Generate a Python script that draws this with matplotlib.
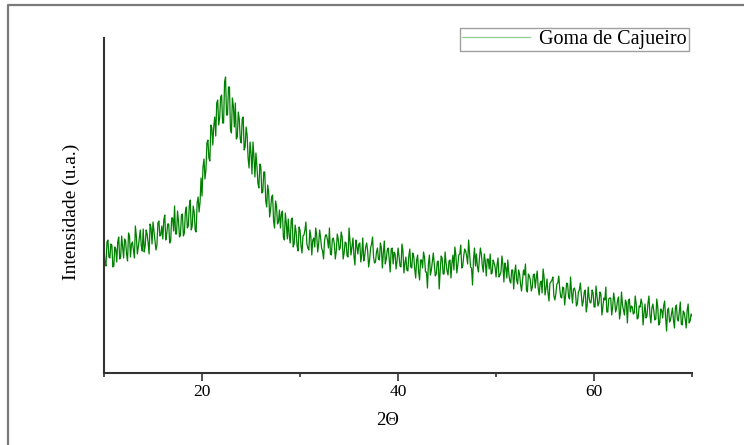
import numpy as np
import matplotlib
matplotlib.use('Agg')
import matplotlib.pyplot as plt
from matplotlib.lines import Line2D
from matplotlib.ticker import MultipleLocator

plt.rcParams['font.family'] = ['Liberation Serif', 'DejaVu Serif']

# XRD scan of cashew gum, 10-70 deg 2theta
# counts on the 0.2 deg grid (10.0, 10.2, ... 70.0)
scan_start = 10.0
scan_step = 0.2
intensity = [
    123, 107, 133, 115, 128, 107, 124, 131, 114, 137,
    115, 132, 112, 137, 129, 123, 147, 119, 135, 127,
    144, 127, 139, 119, 145, 151, 133, 128, 152, 138,
    134, 158, 139, 149, 132, 155, 167, 139, 152, 138,
    159, 140, 166, 147, 173, 147, 161, 141, 176, 171,
    177, 214, 203, 233, 212, 245, 247, 237, 273, 255,
    278, 250, 296, 258, 286, 240, 267, 270, 236, 254,
    230, 256, 226, 238, 205, 220, 231, 196, 207, 185,
    206, 181, 201, 166, 181, 164, 178, 145, 167, 151,
    145, 162, 133, 150, 154, 130, 155, 129, 141, 122,
    143, 120, 138, 151, 125, 143, 118, 135, 145, 121,
    143, 125, 114, 138, 133, 145, 118, 135, 114, 139,
    123, 141, 114, 131, 117, 145, 118, 135, 108, 127,
    129, 111, 135, 117, 130, 106, 125, 136, 110, 121,
    114, 130, 105, 132, 114, 125, 101, 125, 121, 104,
    125, 107, 129, 100, 116, 102, 124, 105, 117, 95,
    118, 93, 113, 121, 101, 85, 118, 103, 120, 97,
    111, 84, 117, 99, 121, 102, 112, 95, 118, 126,
    100, 118, 128, 107, 124, 117, 133, 106, 88, 125,
    119, 101, 125, 107, 119, 97, 114, 119, 100, 110,
    96, 115, 98, 117, 91, 105, 113, 92, 103, 84,
    108, 89, 99, 82, 103, 109, 81, 97, 82, 98,
    85, 102, 78, 92, 104, 78, 94, 72, 91, 96,
    73, 89, 97, 76, 86, 68, 90, 76, 96, 70,
    85, 67, 81, 90, 67, 81, 61, 86, 70, 83,
    66, 87, 67, 81, 58, 75, 86, 61, 75, 58,
    80, 61, 73, 54, 81, 63, 73, 50, 74, 67,
    59, 77, 54, 67, 74, 48, 69, 57, 77, 50,
    69, 53, 74, 48, 64, 55, 72, 42, 65, 53,
    65, 45, 68, 52, 71, 48, 60, 45, 69, 52,
    57,
]
# counts at the in-between angles (10.1, 10.3, ... 69.9)
intensity_mid = [
    110, 131, 116, 129, 106, 126, 111, 136, 116, 126,
    134, 119, 140, 116, 131, 115, 137, 126, 143, 122,
    121, 143, 130, 149, 129, 142, 123, 150, 137, 147,
    153, 133, 149, 130, 155, 142, 139, 162, 136, 158,
    137, 161, 145, 167, 143, 167, 143, 170, 161, 195,
    206, 194, 230, 215, 248, 228, 256, 270, 248, 276,
    250, 291, 258, 286, 244, 275, 246, 234, 261, 234,
    254, 223, 246, 215, 231, 199, 216, 220, 190, 209,
    180, 201, 172, 188, 156, 176, 152, 172, 149, 163,
    159, 136, 160, 134, 137, 153, 126, 148, 127, 146,
    127, 137, 143, 129, 123, 137, 133, 126, 138, 129,
    135, 122, 132, 138, 125, 119, 134, 129, 122, 134,
    125, 136, 120, 130, 116, 132, 127, 117, 133, 119,
    130, 118, 112, 126, 122, 113, 129, 116, 111, 125,
    113, 125, 120, 109, 123, 114, 124, 109, 119, 112,
    117, 106, 122, 110, 103, 117, 106, 120, 104, 113,
    101, 113, 105, 116, 101, 109, 98, 112, 109, 99,
    112, 102, 115, 99, 110, 98, 113, 110, 103, 118,
    108, 119, 105, 117, 122, 109, 119, 105, 114, 107,
    106, 114, 119, 101, 112, 114, 104, 99, 113, 106,
    108, 96, 101, 108, 110, 95, 100, 90, 103, 100,
    93, 103, 89, 93, 98, 83, 99, 93, 86, 99,
    95, 85, 90, 80, 96, 85, 80, 90, 93, 77,
    79, 90, 84, 75, 85, 78, 89, 74, 81, 84,
    81, 69, 83, 78, 72, 83, 68, 75, 71, 80,
    66, 77, 70, 79, 66, 73, 61, 74, 75, 66,
    73, 65, 76, 61, 68, 58, 70, 72, 61, 66,
    60, 69, 55, 66, 69, 60, 55, 70, 58, 65,
    62, 54, 66, 50, 63, 67, 55, 63, 51, 59,
    53, 65, 54, 61, 49, 62, 54, 63, 50, 59,
]

tt_grid = scan_start + scan_step * np.arange(len(intensity))
tt_mid = scan_start + scan_step / 2 + scan_step * np.arange(len(intensity_mid))
two_theta = np.concatenate([tt_grid, tt_mid])
counts = np.concatenate([intensity, intensity_mid])
order = np.argsort(two_theta)
two_theta, counts = two_theta[order], counts[order]

fig = plt.figure(figsize=(7.44, 4.45), dpi=100)
ax = fig.add_axes([0.1398, 0.1618, 0.7904, 0.7528])

ax.plot(two_theta, counts, color='#008000', lw=0.9, label='Goma de Cajueiro')

ax.set_xlim(10, 70)
ax.set_ylim(0, 335)
ax.xaxis.set_major_locator(MultipleLocator(20))
ax.xaxis.set_minor_locator(MultipleLocator(10))
ax.tick_params(axis='x', which='major', length=6, width=1.2, labelsize=12.5,
               pad=2, color='#333333')
ax.tick_params(axis='x', which='minor', length=3, width=1.2, color='#333333')
ax.set_yticks([])

for side in ['top', 'right']:
    ax.spines[side].set_visible(False)
for side in ['left', 'bottom']:
    ax.spines[side].set_color('#333333')
    ax.spines[side].set_linewidth(1.5)

ax.set_xlabel('2Θ', fontsize=13.5)
ax.xaxis.set_label_coords(0.483, -0.115)
ax.set_ylabel('Intensidade (u.a.)', fontsize=14)
ax.yaxis.set_label_coords(-0.040, 0.48)

leg = ax.legend(loc='upper right', bbox_to_anchor=(0.926, 0.937),
                bbox_transform=fig.transFigure, fontsize=14.5, frameon=True,
                fancybox=False, borderpad=0.1, handlelength=3.4,
                handletextpad=0.45, borderaxespad=0)
leg.get_frame().set_edgecolor('#888888')
leg.get_frame().set_linewidth(1.0)
leg.get_lines()[0].set_color('#8fcf8f')

# frame around the figure (top and left edges)
fig.add_artist(Line2D([8 / 744, 8 / 744, 1.0], [0.0, 1 - 5 / 445, 1 - 5 / 445],
                      transform=fig.transFigure, color='#7a7a7a', lw=1.6))

fig.savefig('out.png', dpi=100)
